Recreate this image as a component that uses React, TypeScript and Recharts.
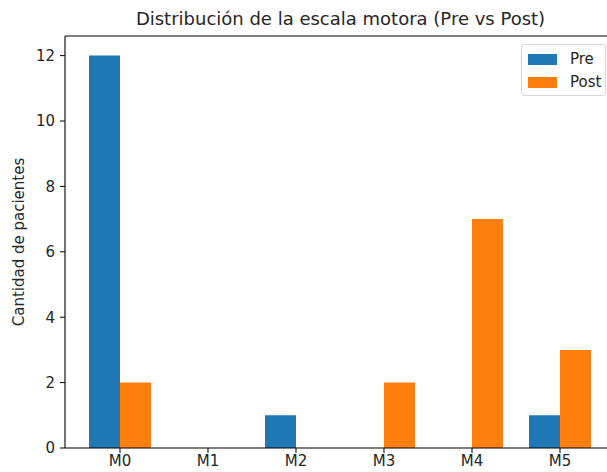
import React from 'react';
import {
  BarChart,
  Bar,
  XAxis,
  YAxis,
  ReferenceLine,
  Label,
} from 'recharts';

const categories = ['M0', 'M1', 'M2', 'M3', 'M4', 'M5'];
const preValues = [12, 0, 1, 0, 0, 1];
const postValues = [2, 0, 0, 2, 7, 3];
const yTicks = [0, 2, 4, 6, 8, 10, 12];
const seriesNames = ['Pre', 'Post'];

const PRE_COLOR = '#1f77b4';
const POST_COLOR = '#ff7f0e';
const seriesColors = [PRE_COLOR, POST_COLOR];
const FONT = '"DejaVu Sans", sans-serif';
const TEXT = '#262626';

const data = categories.map((c, i) => ({ name: c, Pre: preValues[i], Post: postValues[i] }));

function LegendBox() {
  return (
    <div
      style={{
        position: 'absolute',
        left: 521,
        top: 44,
        width: 83,
        height: 50,
        boxSizing: 'content-box',
        border: '1px solid #d8d8d8',
        borderRadius: 3,
        background: '#fff',
        fontFamily: FONT,
        fontSize: 15,
        color: TEXT,
      }}
    >
      {seriesNames.map((name, i) => (
        <div
          key={name}
          style={{ position: 'absolute', left: 6, top: 3 + i * 23, height: 22, display: 'flex', alignItems: 'center' }}
        >
          <span style={{ width: 29, height: 11, background: seriesColors[i], display: 'inline-block', marginRight: 13 }} />
          <span>{name}</span>
        </div>
      ))}
    </div>
  );
}

function YLabel({ viewBox }: { viewBox?: { x: number; y: number; width: number; height: number } }) {
  const vb = viewBox || { x: 0, y: 0, width: 0, height: 0 };
  const cy = vb.y + vb.height / 2;
  return (
    <text
      x={24}
      y={cy}
      transform={`rotate(-90, 24, ${cy})`}
      textAnchor="middle"
      fontFamily={FONT}
      fontSize={15}
      fill={TEXT}
    >
      Cantidad de pacientes
    </text>
  );
}

export default function App() {
  return (
    <div style={{ position: 'absolute', left: 0, top: 0, width: 607, height: 472, overflow: 'hidden', background: '#fff' }}>
      <div
        style={{
          position: 'absolute',
          left: 65,
          width: 551,
          top: 8,
          textAlign: 'center',
          fontFamily: FONT,
          fontSize: 18,
          lineHeight: '22px',
          color: TEXT,
          whiteSpace: 'nowrap',
        }}
      >
        Distribución de la escala motora (Pre vs Post)
      </div>
      <BarChart
        width={640}
        height={472}
        data={data}
        margin={{ top: 36, right: 24, bottom: 0, left: 25 }}
        barSize={31}
        barGap={0}
        style={{ position: 'absolute', left: 0, top: 0 }}
      >
        <XAxis
          dataKey="name"
          height={24}
          padding={{ left: 11, right: 12 }}
          tick={{ fontSize: 15, fill: TEXT, fontFamily: FONT }}
          tickSize={5}
          tickMargin={2}
          axisLine={{ stroke: '#000', strokeWidth: 1.1 }}
          tickLine={{ stroke: '#000' }}
        />
        <YAxis
          width={40}
          domain={[0, 12.6]}
          ticks={yTicks}
          allowDataOverflow
          tick={{ fontSize: 15, fill: TEXT, fontFamily: FONT }}
          tickSize={5}
          tickMargin={5}
          axisLine={{ stroke: '#000', strokeWidth: 1.1 }}
          tickLine={{ stroke: '#000' }}
        >
          <Label content={<YLabel />} />
        </YAxis>
        <ReferenceLine y={12.6} stroke="#000" strokeWidth={1.1} />
        <Bar dataKey="Pre" name={seriesNames[0]} fill={PRE_COLOR} isAnimationActive={false} />
        <Bar dataKey="Post" name={seriesNames[1]} fill={POST_COLOR} isAnimationActive={false} />
      </BarChart>
      <LegendBox />
    </div>
  );
}
